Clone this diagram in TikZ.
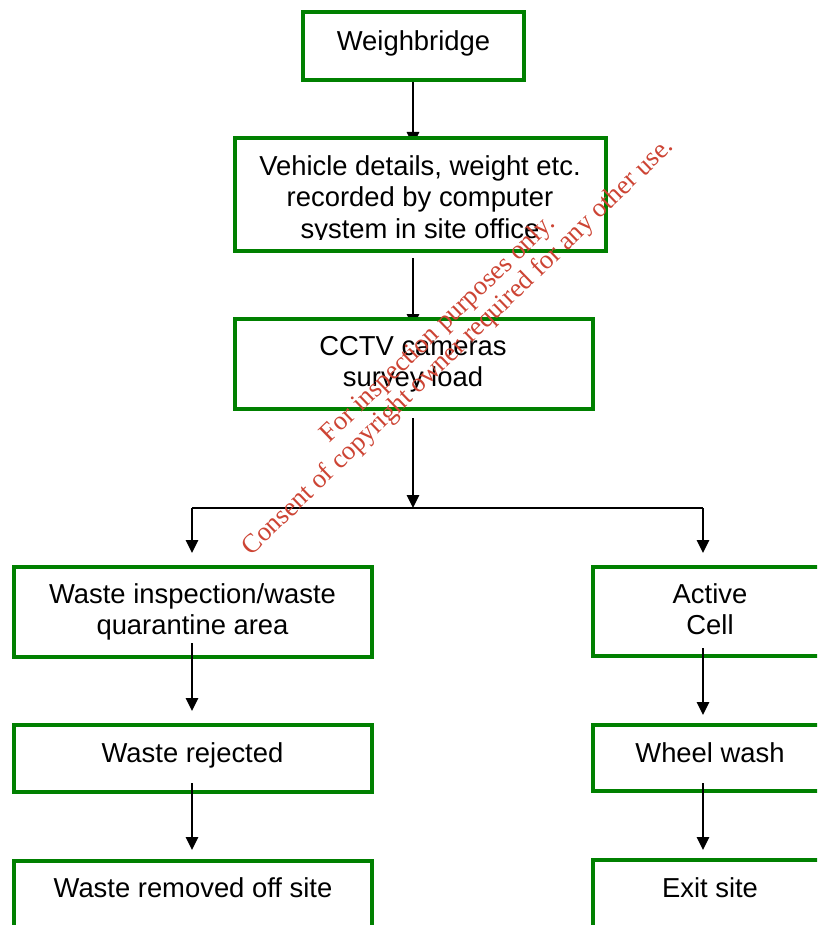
\documentclass[tikz,border=0pt]{standalone}
\usepackage{fontspec}
\setmainfont{Liberation Sans}
\newfontfamily\wmfont{Liberation Serif}
\usetikzlibrary{arrows.meta,calc,backgrounds}
\definecolor{boxgreen}{RGB}{0,128,0}
\definecolor{wmred}{RGB}{205,68,52}
\tikzset{
  box/.style={draw=boxgreen,line width=4pt,rectangle,inner sep=0pt,outer sep=0pt},
  fbox/.style={box,fill=white},
  txt/.style={anchor=north,align=center,inner sep=0pt,font=\fontsize{27.4}{31.5}\selectfont},
  conn/.style={line width=1.6pt,draw=black},
  arr/.style={conn,-{Triangle[width=12.5pt,length=13pt]}},
  wm/.style={anchor=base,rotate=44,inner sep=0pt,text=wmred,font=\wmfont\fontsize{26.7}{30}\selectfont}
}
\begin{document}
\begin{tikzpicture}[x=1pt,y=-1pt]
\clip (0,0) rectangle (817,925);
% boxes
\node[fbox,minimum width=221pt,minimum height=68pt] (wb) at (413.5,46) {};
\node[fbox,minimum width=371pt,minimum height=113pt] (veh) at (420.5,194.5) {};
\node[fbox,minimum width=358pt,minimum height=90pt] (cctv) at (414,364) {};
\node[box,minimum width=358pt,minimum height=90pt] (insp) at (193,612) {};
\node[box,minimum width=358pt,minimum height=67pt] (rej) at (193,758.5) {};
\node[box,minimum width=358pt,minimum height=110pt] (rem) at (193,916) {};
\node[box,minimum width=250pt,minimum height=89pt] (act) at (718,611.5) {};
\node[box,minimum width=250pt,minimum height=66pt] (wash) at (718,758) {};
\node[box,minimum width=250pt,minimum height=110pt] (exit) at (718,915) {};
% texts
\node[txt] (wbt) at (413.5,27.95) {\strut Weighbridge};
\begin{scope}
\clip (235,138) rectangle (606,239.5);
\node[txt] (veht) at (420,152.95) {\strut Vehicle details, weight etc.\\\strut recorded by computer\\\strut system in site office};
\end{scope}
\node[txt] (cctvt) at (413,332.95) {\strut CCTV cameras\\\strut survey load};
\node[txt] (inspt) at (192.5,580.95) {\strut Waste inspection/waste\\\strut quarantine area};
\node[txt] (actt) at (710,580.95) {\strut Active\\\strut Cell};
\node[txt] (rejt) at (192.5,739.95) {\strut Waste rejected};
\node[txt] (washt) at (710,739.95) {\strut Wheel wash};
\node[txt] (remt) at (193,874.95) {\strut Waste removed off site};
\node[txt] (exitt) at (710,874.95) {\strut Exit site};
% connectors
\coordinate (j) at (413,508);
\coordinate (jl) at (192,508);
\coordinate (jr) at (703,508);
\begin{pgfonlayer}{background}
\fill[white] (0,0) rectangle (817,925);
\draw[arr] ($(wb.south)+(-0.5,2)$) -- ($(veh.north -| j)+(0,7)$);
\draw[arr] ($(veh.south -| j)+(0,7)$) -- ($(cctv.north -| j)+(0,8)$);
\end{pgfonlayer}
\draw[arr] ($(cctv.south -| j)+(0,9)$) -- (j);
\draw[conn] (jl) -- (jr);
\draw[arr] (jl) -- ($(insp.north -| jl)+(0,-14)$);
\draw[arr] (jr) -- ($(act.north -| jr)+(0,-14)$);
\draw[arr] ($(insp.south -| jl)+(0,-14)$) -- ($(rej.north -| jl)+(0,-14)$);
\draw[arr] ($(rej.south -| jl)+(0,-9)$) -- ($(rem.north -| jl)+(0,-11)$);
\draw[arr] ($(act.south -| jr)+(0,-8)$) -- ($(wash.north -| jr)+(0,-10)$);
\draw[arr] ($(wash.south -| jr)+(0,-8)$) -- ($(exit.north -| jr)+(0,-10)$);
% watermark
\node[wm] (wm1) at (443,334) {For inspection purposes only.};
\node[wm] (wm2) at (463,352) {Consent of copyright owner required for any other use.};
\end{tikzpicture}
\end{document}
